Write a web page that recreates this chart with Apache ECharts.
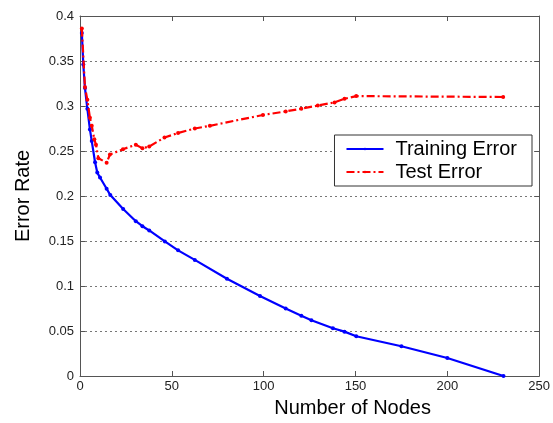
<!DOCTYPE html>
<html>
<head>
<meta charset="utf-8">
<script src="https://cdn.jsdelivr.net/npm/echarts@6/dist/echarts.min.js"></script>
<style>html,body{margin:0;padding:0;background:#fff}#c{width:553px;height:423px}</style>
</head>
<body>
<div id="c"></div>
<script>
var trainX = [1, 1.8, 2.7, 4, 5.4, 6.4, 8.2, 9.4, 10.9, 14.5, 16.5, 23.5, 30.4, 34, 37.7, 46.2, 53.4, 62.5, 80, 98, 112, 120.5, 126, 137.7, 144, 150.4, 175, 200, 230.6];
var trainY = [0.381, 0.346, 0.320, 0.297, 0.274, 0.261, 0.2375, 0.226, 0.2205, 0.208, 0.201, 0.1856, 0.172, 0.1664, 0.1617, 0.1495, 0.1396, 0.129, 0.108, 0.089, 0.075, 0.067, 0.062, 0.053, 0.0493, 0.0442, 0.033, 0.020, 0.0];
var testX = [1, 2.7, 4, 5.4, 6.4, 7.8, 8.7, 10, 14.5, 16.3, 23.4, 30.4, 34, 37.7, 46, 53.4, 62.5, 70.7, 99.6, 112, 120.5, 129.5, 138.6, 144, 150.4, 230.4];
var testY = [0.386, 0.321, 0.307, 0.287, 0.278, 0.263, 0.257, 0.242, 0.237, 0.246, 0.252, 0.257, 0.253, 0.255, 0.265, 0.270, 0.275, 0.278, 0.290, 0.294, 0.297, 0.3005, 0.304, 0.308, 0.311, 0.310];
var seriesNames = ['Training Error', 'Test Error'];
var xTitle = 'Number of Nodes';
var yTitle = 'Error Rate';

function pairs(xs, ys){ return xs.map(function(x,i){ return [x, ys[i]]; }); }

var chart = echarts.init(document.getElementById('c'), null, {renderer:'canvas'});
var axisCol = '#555';
var font = 'Liberation Sans, Arial, sans-serif';
chart.setOption({
  animation: false,
  backgroundColor: '#fff',
  grid: {left: 80, right: 13, top: 16, bottom: 45, containLabel: false},
  legend: {
    orient: 'vertical',
    right: 21, top: 135,
    padding: [4, 15, 4, 11],
    itemGap: 3,
    itemWidth: 37, itemHeight: 3,
    borderColor: '#333', borderWidth: 1, borderRadius: 0,
    backgroundColor: '#fff',
    textStyle: {fontFamily: font, fontSize: 20, lineHeight: 20, color: '#000', padding: [0, 0, 0, 7]},
    data: seriesNames
  },
  xAxis: [{
    type: 'value', min: 0, max: 250, interval: 50,
    name: xTitle, nameLocation: 'middle', nameGap: 22,
    nameTextStyle: {fontFamily: font, fontSize: 20, color: '#000', padding: [0, 0, 0, 86]},
    axisLine: {show: true, lineStyle: {color: axisCol, width: 1}},
    axisTick: {show: true, inside: true, length: 5, lineStyle: {color: axisCol}},
    axisLabel: {fontFamily: font, fontSize: 13, color: '#222', margin: 4},
    splitLine: {show: false}
  }, {
    type: 'value', min: 0, max: 250, interval: 50, position: 'top',
    axisLine: {show: true, onZero: false, lineStyle: {color: axisCol, width: 1}},
    axisTick: {show: true, inside: true, length: 5, lineStyle: {color: axisCol}},
    axisLabel: {show: false}, splitLine: {show: false}
  }],
  yAxis: [{
    type: 'value', min: 0, max: 0.4, interval: 0.05,
    name: yTitle, nameLocation: 'middle', nameGap: 47,
    nameTextStyle: {fontFamily: font, fontSize: 20, color: '#000'},
    axisLine: {show: true, lineStyle: {color: axisCol, width: 1}},
    axisTick: {show: true, inside: true, length: 5, lineStyle: {color: axisCol}},
    axisLabel: {fontFamily: font, fontSize: 13, color: '#222', margin: 6,
      formatter: function(v){ return String(+v.toFixed(2)); }},
    splitLine: {show: true, lineStyle: {color: '#777', type: [2, 3], width: 1}}
  }, {
    type: 'value', min: 0, max: 0.4, interval: 0.05, position: 'right',
    axisLine: {show: true, onZero: false, lineStyle: {color: axisCol, width: 1}},
    axisTick: {show: true, inside: true, length: 5, lineStyle: {color: axisCol}},
    axisLabel: {show: false}, splitLine: {show: false}
  }],
  series: [{
    name: seriesNames[0], type: 'line',
    data: pairs(trainX, trainY),
    symbol: 'circle', symbolSize: 4,
    itemStyle: {color: '#0000ff'},
    lineStyle: {color: '#0000ff', width: 2.2},
    z: 3
  }, {
    name: seriesNames[1], type: 'line',
    data: pairs(testX, testY),
    symbol: 'circle', symbolSize: 4,
    itemStyle: {color: '#ff0000'},
    lineStyle: {color: '#ff0000', width: 2.2, type: [8, 3, 2, 3]},
    z: 4
  }]
});
</script>
</body>
</html>
